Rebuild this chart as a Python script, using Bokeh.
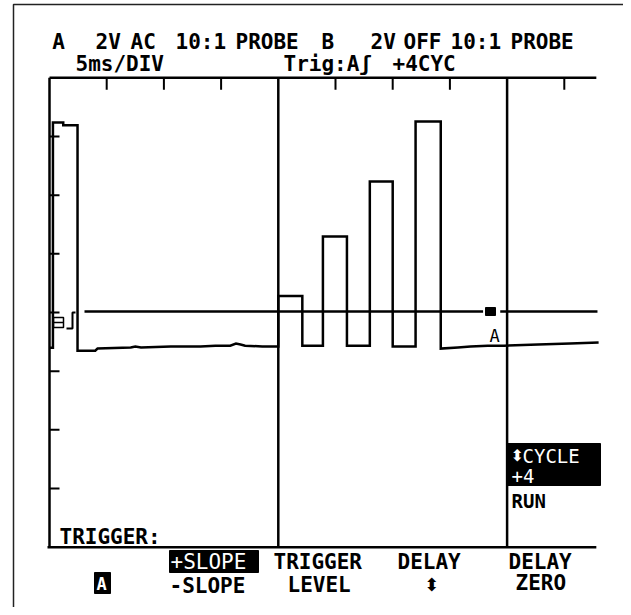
from bokeh.plotting import figure
from bokeh.embed import file_html
from bokeh.resources import INLINE
from bokeh.core.properties import value
from bokeh.models import Range1d

# ---------------- data (time in ms, voltage in V) ----------------
time_ms = [0.0, 0.3, 0.3, 1.2, 1.2, 2.45, 2.45, 4.0, 4.2, 7.1, 7.5, 8.0, 10.6,
           13.2, 14.5, 15.8, 16.3, 16.7, 17.1, 18.6, 20.0,
           20.0, 22.1, 22.1, 23.9, 23.9, 26.0, 26.0, 28.0, 28.0, 30.0, 30.0,
           32.0, 32.0, 34.2, 34.2, 35.7, 36.8, 38.3, 39.7, 42.7, 45.5, 48.0]
trace_v = [-1.2, -1.2, 6.48, 6.48, 6.38, 6.38, -1.30, -1.30, -1.23, -1.19, -1.16, -1.19, -1.16,
           -1.16, -1.13, -1.13, -1.06, -1.09, -1.13, -1.16, -1.16,
           0.56, 0.56, -1.13, -1.13, 2.59, 2.59, -1.13, -1.13, 4.47, 4.47, -1.16,
           -1.16, 6.51, 6.51, -1.23, -1.19, -1.16, -1.13, -1.13, -1.09, -1.06, -1.02]

trig_level_v = 0.03
trig_seg_start_ms = [3.06, 39.4]
trig_seg_end_ms = [37.9, 47.9]

top_tick_ms = [5, 10, 15, 25, 30, 35, 45]
left_tick_v = [6, 4, 2, 0, -2, -4, -6]
divider_ms = [20, 40]
screen_top_v = 8
screen_bottom_v = -8
screen_end_ms = 47.8

header1 = [("A", 51.7), ("2V", 95), ("AC", 130), ("10:1", 175), ("PROBE", 235),
           ("B", 321), ("2V", 370), ("OFF", 403), ("10:1", 450), ("PROBE", 510)]
header2 = [("5ms/DIV", 75), ("Trig:A\u0283", 283), ("+4CYC", 392)]

# ---------------- pixel helpers (layout only) ----------------
PX_PER_MS = 11.44
PX_PER_V = 29.33
X0, Y0 = 49.0, 312.0
W, H = 623, 607
TEXT_DY = 7  # baseline correction


def T(X):
    return (X - X0) / PX_PER_MS


def V(Y):
    return (Y0 - Y) / PX_PER_V


p = figure(width=W, height=H,
           x_range=Range1d(T(0), T(W)), y_range=Range1d(V(H), V(0)),
           output_backend="svg", toolbar_location=None,
           x_axis_type=None, y_axis_type=None, min_border=0)
p.outline_line_color = None
p.background_fill_color = "white"
p.border_fill_color = "white"

FONT = value("DejaVu Sans Mono")
LW = 2.5

# outer frame
p.line([T(13), T(13), T(W)], [V(H), V(4), V(4)], line_color="#222222", line_width=1.5)

# graticule box
p.segment(x0=[0, T(47)], y0=[screen_top_v, screen_bottom_v],
          x1=[screen_end_ms, screen_end_ms], y1=[screen_top_v, screen_bottom_v],
          line_color="black", line_width=LW)
p.segment(x0=[0] + divider_ms, y0=[screen_bottom_v] * 3,
          x1=[0] + divider_ms, y1=[screen_top_v] * 3,
          line_color="black", line_width=LW)
# ticks
p.segment(x0=top_tick_ms, y0=[screen_top_v] * len(top_tick_ms),
          x1=top_tick_ms, y1=[screen_top_v - 12 / PX_PER_V] * len(top_tick_ms),
          line_color="black", line_width=2)
p.segment(x0=[0] * len(left_tick_v), y0=left_tick_v,
          x1=[10 / PX_PER_MS] * len(left_tick_v), y1=left_tick_v,
          line_color="black", line_width=2)

# trigger level line
p.segment(x0=trig_seg_start_ms, y0=[trig_level_v] * 2,
          x1=trig_seg_end_ms, y1=[trig_level_v] * 2,
          line_color="black", line_width=LW)
p.quad(left=[T(485)], right=[T(495)], top=[V(307)], bottom=[V(315)],
       fill_color="black", line_color="black")

# trace
p.line(time_ms, trace_v, line_color="black", line_width=LW, line_join="miter")

# channel marker at left
p.line([T(66), T(72), T(72), T(75)], [V(328), V(328), V(312), V(312)],
       line_color="black", line_width=2)
p.quad(left=[T(53)], right=[T(63)], top=[V(317)], bottom=[V(327)],
       fill_color=None, line_color="black", line_width=1.5)
p.segment(x0=[T(53)], y0=[V(322)], x1=[T(63)], y1=[V(322)],
          line_color="black", line_width=1.5)


def txt(s, X, Y, size=21, color="black", align="left", style="bold", font=FONT):
    p.text(x=[T(X)], y=[V(Y - TEXT_DY)], text=[s], text_font=font,
           text_font_size=value(f"{size}px"), text_baseline="alphabetic",
           text_align=align, text_color=color, text_font_style=style)


# small A marker near trigger point
txt("A", 489, 342, size=17, style="normal")

for s, X in header1:
    txt(s, X, 48)
for s, X in header2:
    txt(s, X, 70)

txt("TRIGGER:", 59, 543)

# softkey labels
p.quad(left=[T(169)], right=[T(258)], top=[V(550)], bottom=[V(572)],
       fill_color="black", line_color="black")
txt("+SLOPE", 170, 568, color="white", style="normal")
txt("-SLOPE", 169, 592)
txt("TRIGGER", 273, 568)
txt("LEVEL", 287, 591)
txt("DELAY", 397, 568)
txt("\u2b0d", 431, 591, size=18, align="center", style="normal", font=value("DejaVu Sans"))
txt("DELAY", 508, 568)
txt("ZERO", 515, 589)

# inverted A softkey
p.quad(left=[T(94)], right=[T(110)], top=[V(572)], bottom=[V(593)],
       fill_color="black", line_color="black")
txt("A", 96, 590, size=17, color="white")

# right-hand menu box
p.quad(left=[T(507)], right=[T(600)], top=[V(443)], bottom=[V(485)],
       fill_color="black", line_color="black")
txt("\u2b0d", 510, 462, size=16, color="white", style="normal", font=value("DejaVu Sans"))
txt("CYCLE", 522, 462, size=19, color="white", style="normal")
txt("+4", 511, 482, size=19, color="white", style="normal")
txt("RUN", 511, 507, size=19)

open("out.html", "w").write(file_html(p, INLINE))
